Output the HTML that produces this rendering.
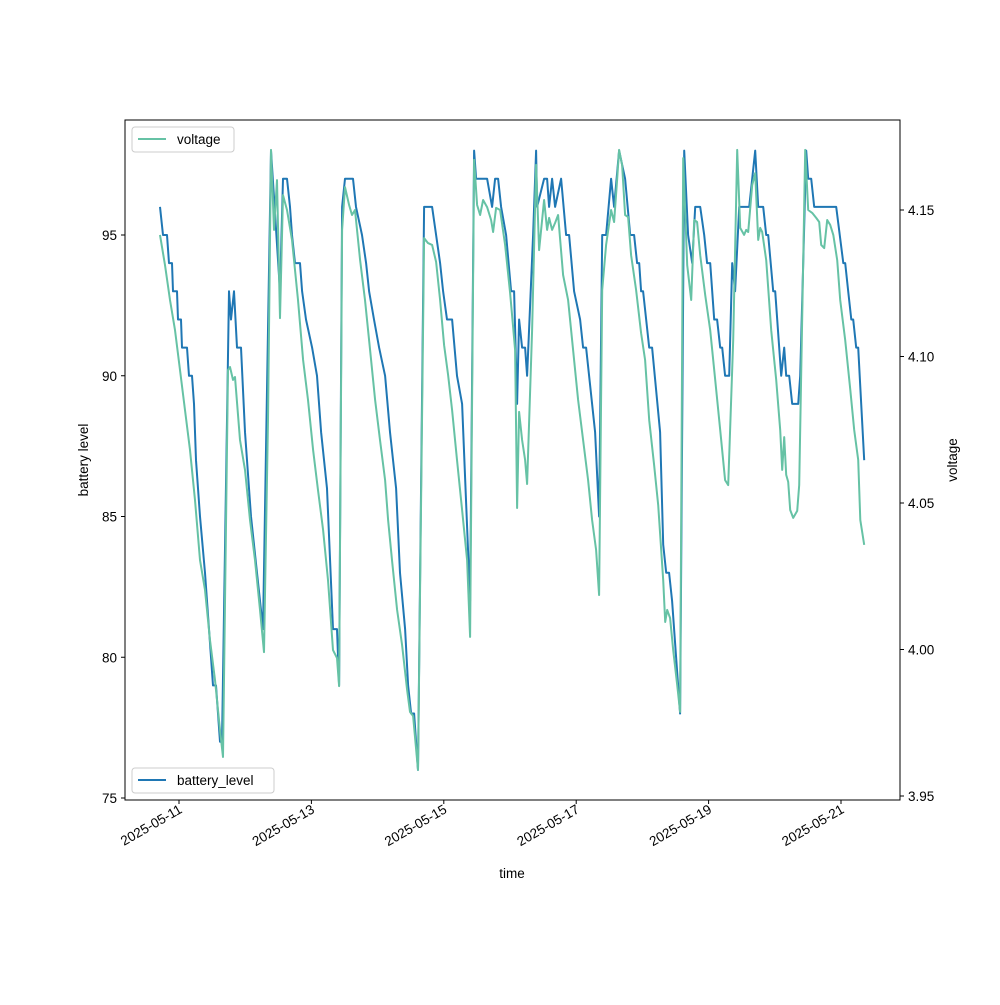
<!DOCTYPE html>
<html><head><meta charset="utf-8"><style>
body{margin:0;background:#fff;}
svg text{font-family:"Liberation Sans","DejaVu Sans",sans-serif;font-size:13.5px;fill:#000;}
</style></head><body>
<svg id="chart" width="1000" height="1000" xmlns="http://www.w3.org/2000/svg">
<rect x="0" y="0" width="1000" height="1000" fill="#fff"/>
<g id="series"></g>
<rect x="125" y="120" width="775" height="680" fill="none" stroke="#000" stroke-width="1"/>
<g id="axes"></g>
<text x="512" y="878" text-anchor="middle">time</text>
<text transform="translate(88,460) rotate(-90)" text-anchor="middle">battery level</text>
<text transform="translate(957,460) rotate(-90)" text-anchor="middle">voltage</text>
<g>
<rect x="132" y="127" width="102" height="25" rx="3" fill="#fff" stroke="#ccc"/>
<line x1="138" y1="139" x2="166" y2="139" stroke="#66c2a5" stroke-width="2"/>
<text x="177" y="144">voltage</text>
</g>
<g>
<rect x="132" y="768" width="142" height="25" rx="3" fill="#fff" stroke="#ccc"/>
<line x1="138" y1="780" x2="166" y2="780" stroke="#1f77b4" stroke-width="2"/>
<text x="177" y="785">battery_level</text>
</g>
</svg>
<script>
// time in days since 2025-05-10 00:00
const batteryPoints=[[0.713,96],[0.758,95],[0.819,95],[0.849,94],[0.894,94],[0.909,93],[0.970,93],[0.985,92],[1.030,92],[1.045,91],[1.121,91],[1.151,90],[1.196,90],[1.227,89],[1.257,87],[1.317,85],[1.393,83],[1.453,81],[1.514,79],[1.559,79],[1.619,77],[1.650,77],[1.756,93],[1.786,92],[1.831,93],[1.876,91],[1.937,91],[1.997,88],[2.088,85],[2.179,83],[2.269,81],[2.390,98],[2.526,93],[2.571,97],[2.632,97],[2.677,96],[2.707,95],[2.753,94],[2.828,94],[2.859,93],[2.919,92],[3.010,91],[3.085,90],[3.146,88],[3.236,86],[3.327,81],[3.387,81],[3.418,79],[3.463,96],[3.508,97],[3.629,97],[3.674,96],[3.765,95],[3.826,94],[3.871,93],[3.946,92],[4.022,91],[4.113,90],[4.188,88],[4.279,86],[4.339,83],[4.415,81],[4.460,79],[4.506,78],[4.551,78],[4.611,76],[4.702,96],[4.823,96],[4.883,95],[4.944,94],[4.989,93],[5.049,92],[5.125,92],[5.200,90],[5.276,89],[5.397,82],[5.457,98],[5.488,97],[5.654,97],[5.730,96],[5.775,97],[5.820,97],[5.865,96],[5.941,95],[6.017,93],[6.062,93],[6.107,89],[6.137,92],[6.183,91],[6.228,91],[6.258,90],[6.349,95],[6.394,98],[6.409,96],[6.515,97],[6.560,97],[6.590,96],[6.636,97],[6.681,96],[6.772,97],[6.847,95],[6.893,95],[6.968,93],[7.059,92],[7.104,91],[7.150,91],[7.286,88],[7.346,85],[7.392,95],[7.452,95],[7.527,97],[7.573,96],[7.648,98],[7.739,97],[7.815,95],[7.875,95],[7.920,94],[7.951,94],[7.981,93],[8.011,93],[8.102,91],[8.147,91],[8.268,88],[8.314,84],[8.359,83],[8.404,83],[8.449,82],[8.570,78],[8.631,98],[8.691,95],[8.752,94],[8.797,96],[8.873,96],[8.933,95],[8.978,94],[9.024,94],[9.084,92],[9.129,92],[9.175,91],[9.205,91],[9.250,90],[9.311,90],[9.356,94],[9.401,93],[9.462,96],[9.613,96],[9.704,98],[9.749,96],[9.825,96],[9.870,95],[9.900,95],[9.976,93],[10.006,93],[10.066,91],[10.097,90],[10.142,91],[10.172,90],[10.218,90],[10.263,89],[10.353,89],[10.384,90],[10.474,98],[10.505,97],[10.550,97],[10.595,96],[10.928,96],[11.034,94],[11.064,94],[11.109,93],[11.155,92],[11.185,92],[11.230,91],[11.260,91],[11.351,87]];
const voltagePoints=[[0.713,4.1415],[0.788,4.1312],[0.864,4.1193],[0.940,4.1090],[1.015,4.0954],[1.091,4.0817],[1.166,4.0681],[1.242,4.0510],[1.317,4.0305],[1.393,4.0203],[1.468,4.0032],[1.544,3.9896],[1.619,3.9725],[1.665,3.9633],[1.740,4.0954],[1.771,4.0964],[1.816,4.0920],[1.846,4.0930],[1.922,4.0715],[1.997,4.0613],[2.073,4.0442],[2.148,4.0305],[2.224,4.0135],[2.284,3.9991],[2.345,4.0783],[2.390,4.1705],[2.435,4.1432],[2.481,4.1602],[2.526,4.1131],[2.571,4.1551],[2.632,4.15],[2.707,4.1398],[2.798,4.1193],[2.874,4.0988],[2.949,4.0852],[3.025,4.0681],[3.100,4.0544],[3.176,4.0408],[3.251,4.0237],[3.327,3.9998],[3.387,3.9971],[3.418,3.9875],[3.463,4.1432],[3.508,4.1578],[3.569,4.1517],[3.614,4.1483],[3.659,4.15],[3.735,4.1329],[3.810,4.1193],[3.886,4.1022],[3.962,4.0852],[4.037,4.0715],[4.113,4.0578],[4.158,4.0442],[4.218,4.0305],[4.294,4.0135],[4.370,4.0015],[4.445,3.9862],[4.490,3.9787],[4.536,3.9773],[4.611,3.9589],[4.702,4.1404],[4.762,4.1387],[4.823,4.1381],[4.883,4.1323],[4.944,4.1193],[5.004,4.1039],[5.065,4.0937],[5.125,4.0817],[5.200,4.0647],[5.276,4.0476],[5.352,4.0305],[5.397,4.0043],[5.457,4.1671],[5.503,4.1517],[5.548,4.1483],[5.593,4.1534],[5.654,4.1510],[5.714,4.1466],[5.745,4.1425],[5.790,4.1507],[5.850,4.15],[5.926,4.1381],[6.002,4.1217],[6.047,4.1101],[6.077,4.1022],[6.107,4.0483],[6.137,4.0811],[6.183,4.0715],[6.228,4.0647],[6.258,4.0565],[6.334,4.1090],[6.394,4.1654],[6.440,4.1363],[6.515,4.1534],[6.560,4.1432],[6.590,4.1473],[6.636,4.1432],[6.681,4.1456],[6.727,4.1483],[6.802,4.1278],[6.878,4.1193],[6.968,4.0988],[7.029,4.0852],[7.104,4.0715],[7.180,4.0578],[7.240,4.0442],[7.301,4.0340],[7.346,4.0186],[7.392,4.1227],[7.452,4.1381],[7.527,4.15],[7.573,4.1459],[7.618,4.1602],[7.648,4.1705],[7.694,4.1654],[7.739,4.1483],[7.784,4.1476],[7.830,4.1346],[7.905,4.1227],[7.981,4.1080],[8.041,4.0988],[8.102,4.0783],[8.177,4.0630],[8.238,4.0493],[8.314,4.0237],[8.344,4.0094],[8.374,4.0135],[8.419,4.0107],[8.465,3.9998],[8.525,3.9879],[8.570,3.9787],[8.616,4.1677],[8.676,4.1312],[8.737,4.1193],[8.782,4.1466],[8.827,4.1459],[8.873,4.1346],[8.948,4.1210],[9.024,4.1090],[9.099,4.0920],[9.175,4.0749],[9.250,4.0578],[9.296,4.0561],[9.371,4.1056],[9.432,4.1705],[9.477,4.1439],[9.537,4.1415],[9.568,4.1432],[9.598,4.1425],[9.659,4.1585],[9.704,4.1626],[9.749,4.1398],[9.779,4.1439],[9.810,4.1425],[9.870,4.1329],[9.946,4.1090],[10.021,4.0920],[10.082,4.0749],[10.112,4.0613],[10.142,4.0725],[10.172,4.0596],[10.203,4.0572],[10.233,4.0476],[10.278,4.0449],[10.339,4.0473],[10.369,4.0561],[10.459,4.1705],[10.505,4.15],[10.565,4.1490],[10.625,4.1473],[10.671,4.1459],[10.701,4.1381],[10.746,4.1370],[10.792,4.1466],[10.837,4.1449],[10.883,4.1415],[10.943,4.1329],[10.988,4.1193],[11.064,4.1056],[11.140,4.0886],[11.200,4.0749],[11.260,4.0647],[11.291,4.0442],[11.351,4.0357]];
const xTickDays=[1,3,5,7,9,11];
const xTickLabels=["2025-05-11","2025-05-13","2025-05-15","2025-05-17","2025-05-19","2025-05-21"];
const leftTicks=[75,80,85,90,95];
const rightTicks=[3.95,4.00,4.05,4.10,4.15];
const rightTickLabels=["3.95","4.00","4.05","4.10","4.15"];

const NS="http://www.w3.org/2000/svg";
function xS(d){return 179+(d-1)*66.2;}
function yL(v){return 798-(v-75)*28.15;}
function yR(v){return 210-(v-4.15)*2930;}
const series=document.getElementById('series');
const axes=document.getElementById('axes');
function mk(tag,attrs,parent){const e=document.createElementNS(NS,tag);for(const k in attrs)e.setAttribute(k,attrs[k]);parent.appendChild(e);return e;}

const bl=mk('polyline',{points:batteryPoints.map(p=>xS(p[0]).toFixed(1)+','+yL(p[1]).toFixed(1)).join(' '),fill:'none',stroke:'#1f77b4','stroke-width':2,'stroke-linejoin':'round'},series);


const vl=mk('polyline',{points:voltagePoints.map(p=>xS(p[0]).toFixed(1)+','+yR(p[1]).toFixed(1)).join(' '),fill:'none',stroke:'#66c2a5','stroke-width':2,'stroke-linejoin':'round'},series);



xTickDays.forEach((d,i)=>{
  const x=xS(d);
  mk('line',{x1:x,y1:800,x2:x,y2:804,stroke:'#000'},axes);
  const t=mk('text',{transform:`translate(${x+4},${812}) rotate(-30)`,'text-anchor':'end'},axes);
  t.textContent=xTickLabels[i];
  
  
});
leftTicks.forEach(v=>{
  const y=yL(v);
  mk('line',{x1:121,y1:y,x2:125,y2:y,stroke:'#000'},axes);
  const t=mk('text',{x:117,y:y+5,'text-anchor':'end'},axes);
  t.textContent=String(v);
  
  
});
rightTicks.forEach((v,i)=>{
  const y=yR(v);
  mk('line',{x1:900,y1:y,x2:904,y2:y,stroke:'#000'},axes);
  const t=mk('text',{x:908,y:y+5,'text-anchor':'start'},axes);
  t.textContent=rightTickLabels[i];
  
  
});
</script>
</body></html>
